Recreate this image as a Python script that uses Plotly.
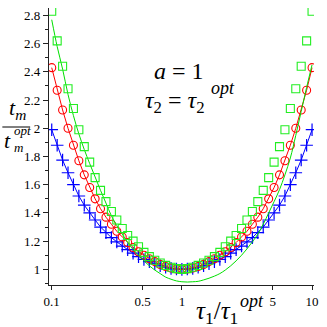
import plotly.graph_objects as go

# tau1 / tau1^opt sample points
tau_ratio = [0.1, 0.1101, 0.1212, 0.1334, 0.1468, 0.1616, 0.1778, 0.1957, 0.2154, 0.2371,
             0.2610, 0.2873, 0.3162, 0.3481, 0.3831, 0.4217, 0.4642, 0.5109, 0.5623, 0.6190,
             0.6813, 0.7499, 0.8254, 0.9085, 1.0, 1.1007, 1.2115, 1.3335, 1.4678, 1.6156,
             1.7783, 1.9573, 2.1544, 2.3714, 2.6102, 2.8730, 3.1623, 3.4807, 3.8312, 4.2170,
             4.6416, 5.1090, 5.6234, 6.1897, 6.8129, 7.4989, 8.2540, 9.0852, 10.0]

green_pts = [2.83, 2.62, 2.44, 2.28, 2.14, 1.99, 1.87, 1.76, 1.65, 1.56,
             1.48, 1.41, 1.35, 1.29, 1.24, 1.20, 1.16, 1.12, 1.09, 1.065,
             1.045, 1.028, 1.015, 1.005, 1.0, 1.005, 1.015, 1.028, 1.045, 1.065,
             1.09, 1.12, 1.16, 1.20, 1.24, 1.29, 1.35, 1.41, 1.48, 1.56,
             1.65, 1.76, 1.87, 1.99, 2.14, 2.28, 2.44, 2.62, 2.83]

green_fit = [2.77, 2.58, 2.42, 2.24, 2.09, 1.96, 1.85, 1.75, 1.655, 1.56,
             1.47, 1.38, 1.31, 1.25, 1.19, 1.14, 1.10, 1.06, 1.025, 0.995,
             0.97, 0.945, 0.93, 0.918, 0.912, 0.91, 0.912, 0.915, 0.925, 0.937,
             0.952, 0.97, 0.995, 1.025, 1.06, 1.10, 1.145, 1.195, 1.25, 1.32,
             1.40, 1.48, 1.565, 1.67, 1.79, 1.95, 2.12, 2.29, 2.45]

red_pts = [2.43, 2.27, 2.13, 2.00, 1.88, 1.77, 1.67, 1.58, 1.50, 1.43,
           1.37, 1.32, 1.27, 1.23, 1.19, 1.155, 1.125, 1.10, 1.075, 1.055,
           1.035, 1.02, 1.01, 1.003, 1.0, 1.003, 1.01, 1.02, 1.035, 1.055,
           1.075, 1.10, 1.125, 1.155, 1.19, 1.23, 1.27, 1.32, 1.37, 1.43,
           1.50, 1.58, 1.67, 1.77, 1.88, 2.00, 2.13, 2.27, 2.43]

blue_pts = [1.99, 1.88, 1.775, 1.685, 1.60, 1.52, 1.455, 1.40, 1.35, 1.30,
            1.26, 1.225, 1.195, 1.165, 1.14, 1.115, 1.09, 1.07, 1.055, 1.04,
            1.025, 1.015, 1.007, 1.002, 1.0, 1.002, 1.007, 1.015, 1.025, 1.04,
            1.055, 1.07, 1.09, 1.115, 1.14, 1.165, 1.195, 1.225, 1.26, 1.30,
            1.35, 1.40, 1.455, 1.52, 1.60, 1.685, 1.775, 1.88, 1.99]

x_ticks = [0.1, 0.5, 1, 5, 10]
x_ticktext = ["0.1", "0.5", "1", "5", "10"]
y_ticks = [1, 1.2, 1.4, 1.6, 1.8, 2, 2.2, 2.4, 2.6, 2.8]
y_ticktext = ["1", "1.2", "1.4", "1.6", "1.8", "2", "2.2", "2.4", "2.6", "2.8"]

W, H = 327, 327
L, R, T, B = 49, 11, 8, 42
SERIF = "Liberation Serif, DejaVu Serif, serif"
BLUE, RED, GREEN = "#0000ff", "#ff0000", "#22ee22"


def pp(x, y):
    # pixel -> paper coords
    return (x - L) / (W - L - R), (H - B - y) / (H - T - B)


fig = go.Figure()

fig.add_trace(go.Scatter(x=tau_ratio, y=blue_pts, mode="lines+markers",
                         line=dict(color=BLUE, width=1),
                         marker=dict(symbol="cross-thin", size=9, color=BLUE,
                                     line=dict(color=BLUE, width=1.2))))
fig.add_trace(go.Scatter(x=tau_ratio, y=red_pts, mode="lines+markers",
                         line=dict(color=RED, width=1),
                         marker=dict(symbol="circle-open", size=8, color=RED,
                                     line=dict(color=RED, width=1.1))))
fig.add_trace(go.Scatter(x=tau_ratio, y=green_fit, mode="lines", line_shape="spline",
                         line=dict(color="#00e000", width=1)))
fig.add_trace(go.Scatter(x=tau_ratio, y=green_pts, mode="markers",
                         marker=dict(symbol="square-open", size=8, color=GREEN,
                                     line=dict(color=GREEN, width=1.1))))


def txt(x, y, s, size=20, anchor="center"):
    ax, ay = pp(x, y)
    fig.add_annotation(x=ax, y=ay, xref="paper", yref="paper", text=s, showarrow=False,
                       xanchor=anchor, yanchor="middle", borderpad=0,
                       font=dict(family=SERIF, size=size, color="black"))


# text in the plot
txt(180, 71, "<i>a</i> = 1", 24)
txt(176, 102, "<i>τ</i><sub>2</sub> = <i>τ</i><sub>2</sub>", 24)
txt(224, 88, "<i>opt</i>", 18)

# y label as a fraction: t_m over t_m^opt
txt(17, 109, "<i>t</i><sub><i>m</i></sub>", 22)
txt(12, 140, "<i>t</i>", 22, anchor="right")
fig.add_annotation(x=pp(13, 0)[0], y=pp(0, 139)[1], xref="paper", yref="paper",
                   text="<i>opt</i><br><i>m</i>", showarrow=False, align="left",
                   xanchor="left", yanchor="middle", borderpad=0,
                   font=dict(family=SERIF, size=13, color="black"))
bx0, by = pp(2, 127)
bx1, _ = pp(30, 127)
fig.add_shape(type="line", xref="paper", yref="paper", x0=bx0, x1=bx1, y0=by, y1=by,
              line=dict(color="black", width=1))

# x label
txt(218, 312, "<i>τ</i><sub>1</sub>/<i>τ</i><sub>1</sub>", 25)
txt(254, 301, "<i>opt</i>", 18)

fig.update_xaxes(type="log", range=[-1.021, 1.015], tickvals=x_ticks, ticktext=x_ticktext,
                 showgrid=False, zeroline=False, showline=True, linecolor="#222", linewidth=1.3,
                 ticks="outside", ticklen=4, tickcolor="#222",
                 tickfont=dict(family=SERIF, size=13, color="black"))
fig.update_yaxes(range=[0.889, 2.853], tickvals=y_ticks, ticktext=y_ticktext,
                 showgrid=False, zeroline=False, showline=True, linecolor="#222", linewidth=1.3,
                 ticks="outside", ticklen=5, tickcolor="#222",
                 minor=dict(dtick=0.1, tick0=0, ticks="outside", ticklen=3, tickcolor="#222"),
                 tickfont=dict(family=SERIF, size=13, color="black"))

fig.update_layout(width=W, height=H, margin=dict(l=L, r=R, t=T, b=B),
                  showlegend=False, plot_bgcolor="white", paper_bgcolor="white")

# drop the browser's default page margin so the figure sits at the top-left corner
fig.write_html("out.html", config={"displayModeBar": False},
               post_script="document.body.style.margin='0';")
